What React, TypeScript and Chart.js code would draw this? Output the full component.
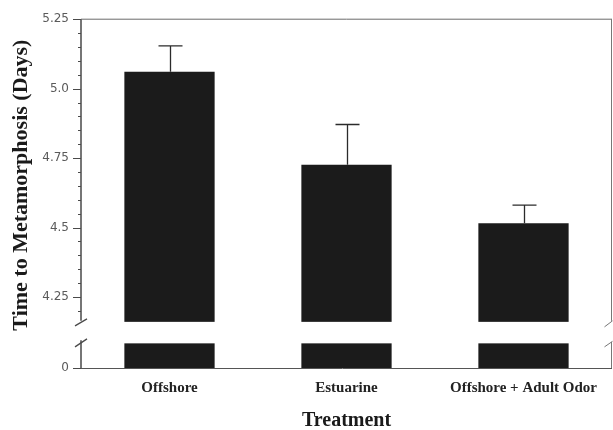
import React, { useEffect, useRef } from 'react';
import { Chart, LinearScale, registerables } from 'chart.js';

// ---- data ----
const categories = ['Offshore', 'Estuarine', 'Offshore + Adult Odor'];
const meanDays = [5.061, 4.726, 4.516];
const seDays = [0.093, 0.145, 0.065];
const majorTicks = [0, 4.25, 4.5, 4.75, 5.0, 5.25];
const majorTickLabels = ['0', '4.25', '4.5', '4.75', '5.0', '5.25'];
const minorTicks = [4.2, 4.3, 4.35, 4.4, 4.45, 4.55, 4.6, 4.65, 4.7, 4.8, 4.85, 4.9, 4.95, 5.05, 5.1, 5.15, 5.2];
const yTitle = 'Time to Metamorphosis (Days)';
const xTitle = 'Treatment';

// ---- broken axis configuration ----
const AXIS_MAX = 5.25;
const BREAK_VALUE = 4.1607; // value at which the upper segment ends
const LOWER_FRAC = 0.1323; // share of the axis height used by the 0..BREAK segment
const GAP_PX = 21.5;

class BrokenLinearScale extends LinearScale {
  static id = 'brokenLinear';
  splitPixel() {
    return this.bottom - (this.bottom - this.top) * LOWER_FRAC;
  }
  getPixelForValue(value: any) {
    if (value === null || value === undefined || isNaN(value)) return NaN;
    const top = this.top;
    const bottom = this.bottom;
    const split = this.splitPixel();
    const max = (this as any).max;
    if (value <= BREAK_VALUE) {
      return bottom - (value / BREAK_VALUE) * (bottom - split);
    }
    return split - ((value - BREAK_VALUE) / (max - BREAK_VALUE)) * (split - top);
  }
  getValueForPixel(pixel: number) {
    const top = this.top;
    const bottom = this.bottom;
    const split = this.splitPixel();
    const max = (this as any).max;
    if (pixel >= split) {
      return ((bottom - pixel) / (bottom - split)) * BREAK_VALUE;
    }
    return BREAK_VALUE + ((split - pixel) / (split - top)) * (max - BREAK_VALUE);
  }
}

Chart.register(...registerables, BrokenLinearScale);

const decorPlugin = {
  id: 'brokenAxisDecor',
  afterDatasetsDraw(chart: any) {
    const { ctx, chartArea } = chart;
    const ys = chart.scales.y;
    const xs = chart.scales.x;
    const { left, right, top, bottom } = chartArea;
    const split = ys.getPixelForValue(BREAK_VALUE);
    ctx.save();
    // white gap across the bars
    ctx.fillStyle = '#ffffff';
    ctx.fillRect(left + 1, split, right - left - 2, GAP_PX);

    // error bars (upper whisker)
    ctx.strokeStyle = '#2b2b2b';
    ctx.lineWidth = 1.3;
    meanDays.forEach((m, i) => {
      const cx = xs.getPixelForValue(i) + 1;
      const y0 = ys.getPixelForValue(m);
      const y1 = ys.getPixelForValue(m + seDays[i]);
      ctx.beginPath();
      ctx.moveTo(cx, y0);
      ctx.lineTo(cx, y1);
      ctx.moveTo(cx - 12, y1);
      ctx.lineTo(cx + 12, y1);
      ctx.stroke();
    });

    // top frame line
    ctx.strokeStyle = '#6a6a6a';
    ctx.lineWidth = 1;
    ctx.beginPath();
    ctx.moveTo(left, top);
    ctx.lineTo(right, top);
    ctx.stroke();

    // bottom line
    ctx.strokeStyle = '#555555';
    ctx.beginPath();
    ctx.moveTo(left - 8, bottom + 0.5);
    ctx.lineTo(right, bottom + 0.5);
    ctx.stroke();

    // right frame with break
    const rx = right - 0.5;
    ctx.strokeStyle = '#777777';
    ctx.beginPath();
    ctx.moveTo(rx, top);
    ctx.lineTo(rx, split - 1);
    ctx.moveTo(rx - 7, split + 5);
    ctx.lineTo(rx + 1, split - 1);
    ctx.moveTo(rx - 7, split + 25);
    ctx.lineTo(rx + 1, split + 19.5);
    ctx.moveTo(rx, split + 20);
    ctx.lineTo(rx, bottom);
    ctx.stroke();

    // left axis with break
    ctx.strokeStyle = '#4a4a4a';
    ctx.lineWidth = 1.5;
    ctx.beginPath();
    ctx.moveTo(left, top);
    ctx.lineTo(left, split - 1);
    ctx.moveTo(left, split + 18.5);
    ctx.lineTo(left, bottom);
    ctx.stroke();
    ctx.lineWidth = 1.3;
    ctx.beginPath();
    ctx.moveTo(left - 6, split + 4);
    ctx.lineTo(left + 6, split - 3);
    ctx.moveTo(left - 6, split + 25);
    ctx.lineTo(left + 6, split + 17);
    ctx.stroke();

    // tick marks
    ctx.lineWidth = 1;
    ctx.strokeStyle = '#4a4a4a';
    ctx.beginPath();
    majorTicks.forEach((v) => {
      const py = Math.round(ys.getPixelForValue(v)) + 0.5;
      ctx.moveTo(left - 8, py);
      ctx.lineTo(left, py);
    });
    minorTicks.forEach((v) => {
      const py = Math.round(ys.getPixelForValue(v)) + 0.5;
      ctx.moveTo(left - 3, py);
      ctx.lineTo(left, py);
    });
    ctx.stroke();
    ctx.restore();
  },
  afterDraw(chart: any) {
    const { ctx, chartArea } = chart;
    ctx.save();
    ctx.translate(20, (chartArea.top + chartArea.bottom) / 2 - 8.5);
    ctx.rotate(-Math.PI / 2);
    ctx.font = 'bold 22px "Liberation Serif"';
    ctx.fillStyle = '#1a1a1a';
    ctx.textAlign = 'center';
    ctx.textBaseline = 'alphabetic';
    ctx.fillText(yTitle, 0, 7);
    ctx.restore();
  },
};

export default function App() {
  const ref = useRef<HTMLCanvasElement | null>(null);
  useEffect(() => {
    if (!ref.current) return;
    const chart = new Chart(ref.current, {
      type: 'bar',
      data: {
        labels: categories,
        datasets: [
          {
            data: meanDays,
            backgroundColor: '#1b1b1b',
            borderWidth: 0,
            barPercentage: 0.51,
            categoryPercentage: 1,
          },
        ],
      },
      options: {
        animation: false,
        responsive: false,
        events: [],
        layout: { padding: { top: 16.5, right: 1, left: 0, bottom: 0 } },
        plugins: { legend: { display: false }, tooltip: { enabled: false } },
        scales: {
          x: {
            type: 'category',
            grid: { display: false, drawTicks: false },
            border: { display: false },
            ticks: {
              padding: 11,
              color: '#222222',
              font: { family: 'Liberation Serif', size: 15, weight: 'bold' },
            },
            title: {
              display: true,
              text: xTitle,
              color: '#1a1a1a',
              padding: { top: 0, bottom: 0 },
              font: { family: 'Liberation Serif', size: 20, weight: 'bold', lineHeight: 0.9 },
            },
            afterFit: (s: any) => {
              s.height = 62;
            },
          },
          y: {
            type: 'brokenLinear' as any,
            min: 0,
            max: AXIS_MAX,
            grid: { display: false, drawTicks: false },
            border: { display: false },
            ticks: {
              autoSkip: false,
              padding: 12,
              color: '#5a5a5a',
              font: { family: 'DejaVu Sans', size: 12 },
              callback: (v: any) => {
                const i = majorTicks.indexOf(v);
                return i >= 0 ? majorTickLabels[i] : '';
              },
            },
            afterBuildTicks: (s: any) => {
              s.ticks = [...majorTicks, ...minorTicks]
                .sort((a, b) => a - b)
                .map((v) => ({ value: v }));
            },
            afterFit: (s: any) => {
              s.width = 81;
            },
          } as any,
        },
      },
      plugins: [decorPlugin],
    });
    return () => chart.destroy();
  }, []);
  return (
    <div style={{ position: 'absolute', left: 0, top: 0, width: 613, height: 430, background: '#fff' }}>
      <canvas ref={ref} width={613} height={430} />
    </div>
  );
}
